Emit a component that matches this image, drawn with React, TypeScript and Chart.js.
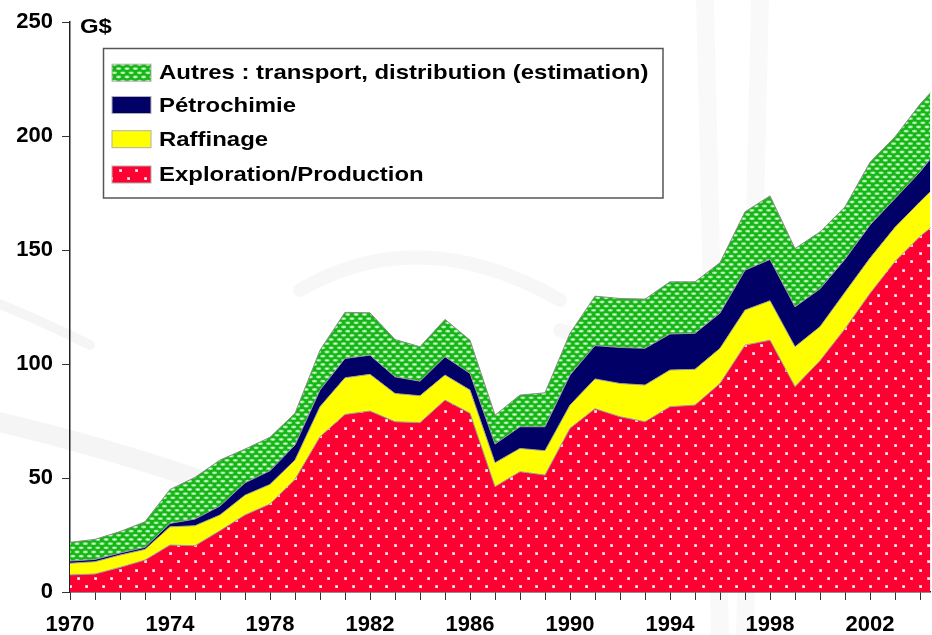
import React, { useEffect, useRef } from "react";
import { Chart, registerables } from "chart.js";

Chart.register(...registerables);

// ---- Data (G$) ----
const years = [
  1970, 1971, 1972, 1973, 1974, 1975, 1976, 1977, 1978, 1979,
  1980, 1981, 1982, 1983, 1984, 1985, 1986, 1987, 1988, 1989,
  1990, 1991, 1992, 1993, 1994, 1995, 1996, 1997, 1998, 1999,
  2000, 2001, 2002, 2003, 2004, 2005,
];
const explorationProduction = [
  7.5, 7.9, 10.8, 14.0, 20.6, 20.3, 26.9, 33.8, 38.6, 49.4,
  68.1, 77.9, 79.4, 74.7, 74.3, 84.2, 78.4, 46.2, 52.8, 51.3,
  71.8, 80.4, 76.9, 74.7, 81.3, 82.0, 91.5, 108.3, 110.5, 90.1,
  101.5, 115.5, 131.0, 145.0, 156.0, 165.0,
];
const raffinage = [
  5.1, 5.4, 5.4, 4.7, 8.0, 8.8, 6.9, 8.7, 8.6, 8.5,
  13.2, 16.1, 16.1, 12.4, 11.8, 11.0, 10.2, 10.5, 10.2, 10.7,
  10.2, 13.1, 14.6, 16.1, 16.1, 15.7, 15.4, 15.4, 17.3, 17.5,
  14.9, 16.0, 15.5, 15.0, 15.2, 17.0,
];
const petrochimie = [
  1.0, 1.0, 0.9, 0.9, 1.5, 2.9, 3.9, 5.4, 6.0, 6.6,
  7.3, 8.5, 8.4, 7.3, 6.4, 8.0, 7.3, 8.2, 9.5, 10.5,
  13.2, 14.6, 15.8, 16.1, 15.8, 15.8, 15.5, 17.5, 18.1, 17.5,
  16.6, 14.5, 14.5, 12.6, 13.1, 16.0,
];
const autres = [
  8.2, 8.8, 9.4, 11.2, 14.9, 18.3, 20.2, 14.8, 14.7, 13.9,
  17.5, 20.2, 18.6, 16.4, 15.1, 16.4, 14.6, 12.7, 13.9, 14.9,
  18.3, 21.7, 21.5, 21.6, 22.9, 22.6, 22.1, 25.6, 27.9, 25.6,
  25.0, 23.0, 27.5, 27.1, 29.7, 28.0,
];
const seriesLabels = [
  "Exploration/Production",
  "Raffinage",
  "Pétrochimie",
  "Autres : transport, distribution (estimation)",
];
const unitLabel = "G$";
const xFirstYear = 1970;
const xLastVisible = 2004.41;
const xLabelEvery = 4;
const yMin = 0;
const yMax = 250;
const yStep = 50;

const FONT = "'Liberation Sans', Arial, sans-serif";

function makeRedPattern(): CanvasPattern | string {
  const c = document.createElement("canvas");
  c.width = 50;
  c.height = 50;
  const g = c.getContext("2d");
  if (!g) return "#FF0033";
  g.fillStyle = "#FF0033";
  g.fillRect(0, 0, 50, 50);
  for (let r = 0; r < 6; r++) {
    const y = r * (50 / 6) + 3;
    const off = r % 2 ? 50 / 6 : 0;
    for (let k = 0; k < 3; k++) {
      const x = off + k * (50 / 3) + 3;
      g.fillStyle = "rgba(255,190,200,0.9)";
      g.fillRect(Math.round(x) - 1, Math.round(y) - 1, 3, 3);
      g.fillStyle = "#ffffff";
      g.fillRect(Math.round(x), Math.round(y), 1.6, 1.6);
    }
  }
  return g.createPattern(c, "repeat") || "#FF0033";
}

function makeGreenPattern(): CanvasPattern | string {
  const c = document.createElement("canvas");
  c.width = 50;
  c.height = 50;
  const g = c.getContext("2d");
  if (!g) return "#22BB22";
  g.fillStyle = "#17B517";
  g.fillRect(0, 0, 50, 50);
  const cols = 6;
  const rows = 12;
  const dx = 50 / cols;
  const dy = 50 / rows;
  for (let r = 0; r < rows; r++) {
    const off = r % 2 ? dx / 2 : 0;
    for (let k = 0; k < cols + 1; k++) {
      const x = off + k * dx + 2;
      const y = r * dy + 2;
      g.fillStyle = "rgba(150,235,150,0.95)";
      g.beginPath();
      g.ellipse(x, y, 2.7, 1.4, 0, 0, Math.PI * 2);
      g.fill();
      g.fillStyle = "rgba(240,255,240,0.95)";
      g.beginPath();
      g.ellipse(x, y, 1.3, 0.7, 0, 0, Math.PI * 2);
      g.fill();
    }
  }
  return g.createPattern(c, "repeat") || "#22BB22";
}

export default function App() {
  const ref = useRef<HTMLCanvasElement | null>(null);

  useEffect(() => {
    const canvas = ref.current;
    if (!canvas) return;
    const red = makeRedPattern();
    const green = makeGreenPattern();
    const navy = "#000066";
    const yellow = "#FFFF00";
    const edge = "#9a9a9a";

    const toPts = (arr: number[]) => years.map((x, i) => ({ x, y: arr[i] }));

    const background = {
      id: "bgWatermark",
      beforeDraw(chart: any) {
        const ctx = chart.ctx as CanvasRenderingContext2D;
        ctx.save();
        ctx.fillStyle = "#ffffff";
        ctx.fillRect(0, 0, chart.width, chart.height);
        ctx.strokeStyle = "rgba(0,0,0,0.04)";
        ctx.lineCap = "round";
        ctx.lineWidth = 20;
        ctx.beginPath();
        ctx.moveTo(-10, 420);
        ctx.quadraticCurveTo(100, 445, 215, 485);
        ctx.stroke();
        ctx.lineWidth = 10;
        ctx.beginPath();
        ctx.moveTo(-10, 300);
        ctx.quadraticCurveTo(40, 320, 90, 345);
        ctx.stroke();
        ctx.strokeStyle = "rgba(0,0,0,0.03)";
        ctx.lineWidth = 14;
        ctx.beginPath();
        ctx.moveTo(300, 290);
        ctx.quadraticCurveTo(420, 220, 560, 300);
        ctx.stroke();
        ctx.beginPath();
        ctx.moveTo(560, 330);
        ctx.quadraticCurveTo(650, 360, 740, 420);
        ctx.stroke();
        ctx.lineWidth = 18;
        ctx.strokeStyle = "rgba(0,0,0,0.022)";
        ctx.beginPath();
        ctx.moveTo(705, 0);
        ctx.lineTo(720, 635);
        ctx.stroke();
        ctx.beginPath();
        ctx.moveTo(760, 0);
        ctx.lineTo(745, 635);
        ctx.stroke();
        ctx.restore();
      },
    };

    const legendAndTitle = {
      id: "customLegend",
      afterDraw(chart: any) {
        const ctx = chart.ctx as CanvasRenderingContext2D;
        ctx.save();
        const stretch = 1.14;
        const drawText = (t: string, x: number, y: number, size: number) => {
          ctx.save();
          ctx.translate(x, y);
          ctx.scale(stretch, 1);
          ctx.font = `bold ${size}px ${FONT}`;
          ctx.fillStyle = "#000";
          ctx.textAlign = "left";
          ctx.textBaseline = "middle";
          ctx.fillText(t, 0, 0);
          ctx.restore();
        };
        drawText(unitLabel, 80, 27, 21);
        ctx.strokeStyle = "#555";
        ctx.lineWidth = 1.5;
        ctx.strokeRect(103.5, 48.5, 559.5, 149.5);
        const rows = [
          { label: seriesLabels[3], fill: green, cy: 72.7 },
          { label: seriesLabels[2], fill: navy, cy: 105 },
          { label: seriesLabels[1], fill: yellow, cy: 139.2 },
          { label: seriesLabels[0], fill: red, cy: 174.5 },
        ];
        rows.forEach((r) => {
          ctx.fillStyle = r.fill as any;
          ctx.fillRect(112, r.cy - 8.5, 39, 17);
          ctx.strokeStyle = "#b0b0b0";
          ctx.lineWidth = 1;
          ctx.strokeRect(112, r.cy - 8.5, 39, 17);
          drawText(r.label, 159, r.cy + 1, 21);
        });
        ctx.restore();
      },
    };

    const common = {
      borderColor: edge,
      borderWidth: 1,
      pointRadius: 0,
      pointHoverRadius: 0,
      tension: 0,
    };

    const chart = new Chart(canvas, {
      type: "line",
      data: {
        datasets: [
          { ...common, label: seriesLabels[0], data: toPts(explorationProduction), backgroundColor: red as any, fill: "origin" },
          { ...common, label: seriesLabels[1], data: toPts(raffinage), backgroundColor: yellow, fill: "-1" },
          { ...common, label: seriesLabels[2], data: toPts(petrochimie), backgroundColor: navy, fill: "-1" },
          { ...common, label: seriesLabels[3], data: toPts(autres), backgroundColor: green as any, fill: "-1", borderColor: "#8a8a8a" },
        ],
      },
      options: {
        responsive: false,
        animation: false,
        devicePixelRatio: 1,
        layout: { padding: { top: 22, right: 0, left: 0, bottom: 0 } },
        plugins: {
          legend: { display: false },
          tooltip: { enabled: false },
        },
        scales: {
          x: {
            type: "linear",
            min: xFirstYear,
            max: xLastVisible,
            border: { display: true, color: "#222", width: 1.5 },
            grid: { drawOnChartArea: false, drawTicks: true, tickLength: 8, color: "#333", lineWidth: 1 },
            ticks: {
              stepSize: 1,
              includeBounds: false,
              autoSkip: false,
              maxRotation: 0,
              padding: 12,
              color: "#000",
              font: { family: FONT, size: 22, weight: "bold" },
              callback: (v: any) => ((Number(v) - xFirstYear) % xLabelEvery === 0 ? String(v) : ""),
            },
            afterFit: (s: any) => {
              s.height = 43;
            },
          },
          y: {
            stacked: true,
            min: yMin,
            max: yMax,
            border: { display: true, color: "#222", width: 1.5 },
            grid: { drawOnChartArea: false, drawTicks: true, tickLength: 8, color: "#333", lineWidth: 1 },
            ticks: {
              stepSize: yStep,
              padding: 9,
              color: "#000",
              font: { family: FONT, size: 22, weight: "bold" },
            },
            afterFit: (s: any) => {
              s.width = 70;
            },
          },
        },
      },
      plugins: [background, legendAndTitle],
    } as any);

    return () => chart.destroy();
  }, []);

  return (
    <div style={{ position: "fixed", left: 0, top: 0, width: 932, height: 635, background: "#fff" }}>
      <canvas ref={ref} width={932} height={635} style={{ display: "block", width: 932, height: 635 }} />
    </div>
  );
}
